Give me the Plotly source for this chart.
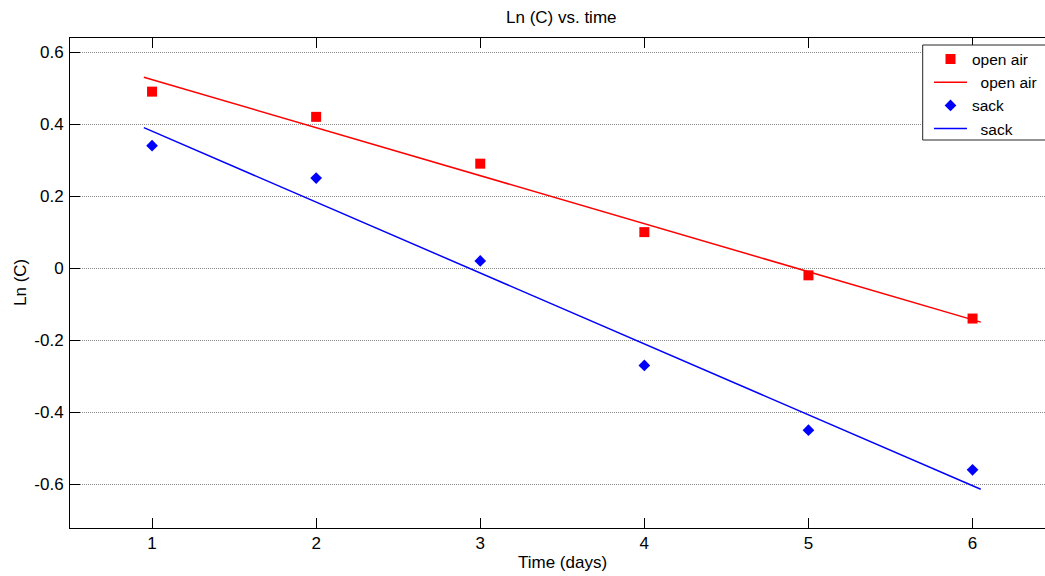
import plotly.graph_objects as go

days = [1, 2, 3, 4, 5, 6]
open_air = [0.49, 0.42, 0.29, 0.10, -0.02, -0.14]
sack = [0.34, 0.25, 0.02, -0.27, -0.45, -0.56]

fit_days = [0.95, 6.05]
open_air_fit = [0.53, -0.15]
sack_fit = [0.39, -0.614]

x_ticks = [1, 2, 3, 4, 5, 6]
y_ticks = [-0.6, -0.4, -0.2, 0, 0.2, 0.4, 0.6]
y_tick_text = ["-0.6", "-0.4", "-0.2", "0", "0.2", "0.4", "0.6"]

FONT = "Liberation Sans, Arial, sans-serif"
NB = "\u00a0"

fig = go.Figure()
fig.add_trace(go.Scatter(x=days, y=open_air, mode="markers", name="open air",
                         marker=dict(symbol="square", size=10, color="#ff0000")))
fig.add_trace(go.Scatter(x=fit_days, y=open_air_fit, mode="lines", name=NB + NB + "open air",
                         line=dict(color="#ff0000", width=1.5)))
fig.add_trace(go.Scatter(x=days, y=sack, mode="markers", name="sack",
                         marker=dict(symbol="diamond", size=9, color="#0000ff")))
fig.add_trace(go.Scatter(x=fit_days, y=sack_fit, mode="lines", name=NB + NB + "sack",
                         line=dict(color="#0000ff", width=1.5)))

L, T, W, H = 70, 38, 975, 490

def px(xp):
    return (xp - L) / W

def py(yp):
    return (T + H - yp) / H

fig.update_layout(
    width=1045, height=576,
    margin=dict(l=L, r=0, t=T, b=576 - T - H, autoexpand=False),
    paper_bgcolor="white", plot_bgcolor="white",
    font=dict(family=FONT, size=17, color="black"),
    showlegend=True,
    legend=dict(x=px(929), y=py(42.5), xanchor="left", yanchor="top",
                bgcolor="rgba(0,0,0,0)", borderwidth=0,
                font=dict(family=FONT, size=15.5, color="black"),
                itemwidth=33, tracegroupgap=0),
    xaxis=dict(range=[0.5, 0.5 + W / 164.1], tickvals=x_ticks,
               ticks="inside", ticklen=10, tickcolor="black", tickwidth=1,
               showline=True, linecolor="black", linewidth=1, mirror="ticks",
               showgrid=False, zeroline=False,
               tickfont=dict(family=FONT, size=17, color="black")),
    yaxis=dict(range=[-0.7215, 0.6389], tickvals=y_ticks, ticktext=y_tick_text,
               ticks="inside", ticklen=10, tickcolor="black", tickwidth=1,
               showline=True, linecolor="black", linewidth=1, mirror=False,
               showgrid=True, gridcolor="#8a8a8a", gridwidth=1, griddash="1px,1px",
               zeroline=False, ticklabelstandoff=2,
               tickfont=dict(family=FONT, size=17, color="black")),
    shapes=[dict(type="rect", xref="paper", yref="paper",
                 x0=px(922.7), x1=px(1060), y0=py(140), y1=py(45),
                 line=dict(color="#262626", width=1), fillcolor="white", layer="above")],
    annotations=[
        dict(text="Ln (C) vs. time", xref="paper", yref="paper", x=px(561.5), y=py(18),
             xanchor="center", yanchor="middle", showarrow=False,
             font=dict(family=FONT, size=17, color="black")),
        dict(text="Time (days)", xref="paper", yref="paper", x=px(562), y=py(562),
             xanchor="center", yanchor="middle", showarrow=False,
             font=dict(family=FONT, size=17, color="black")),
        dict(text="Ln (C)", xref="paper", yref="paper", x=px(20), y=py(283),
             xanchor="center", yanchor="middle", showarrow=False, textangle=-90,
             font=dict(family=FONT, size=17, color="black")),
    ],
)

fig.write_html("out.html", config={"displayModeBar": False},
               post_script="document.body.style.margin='0';document.body.style.overflow='hidden';")
